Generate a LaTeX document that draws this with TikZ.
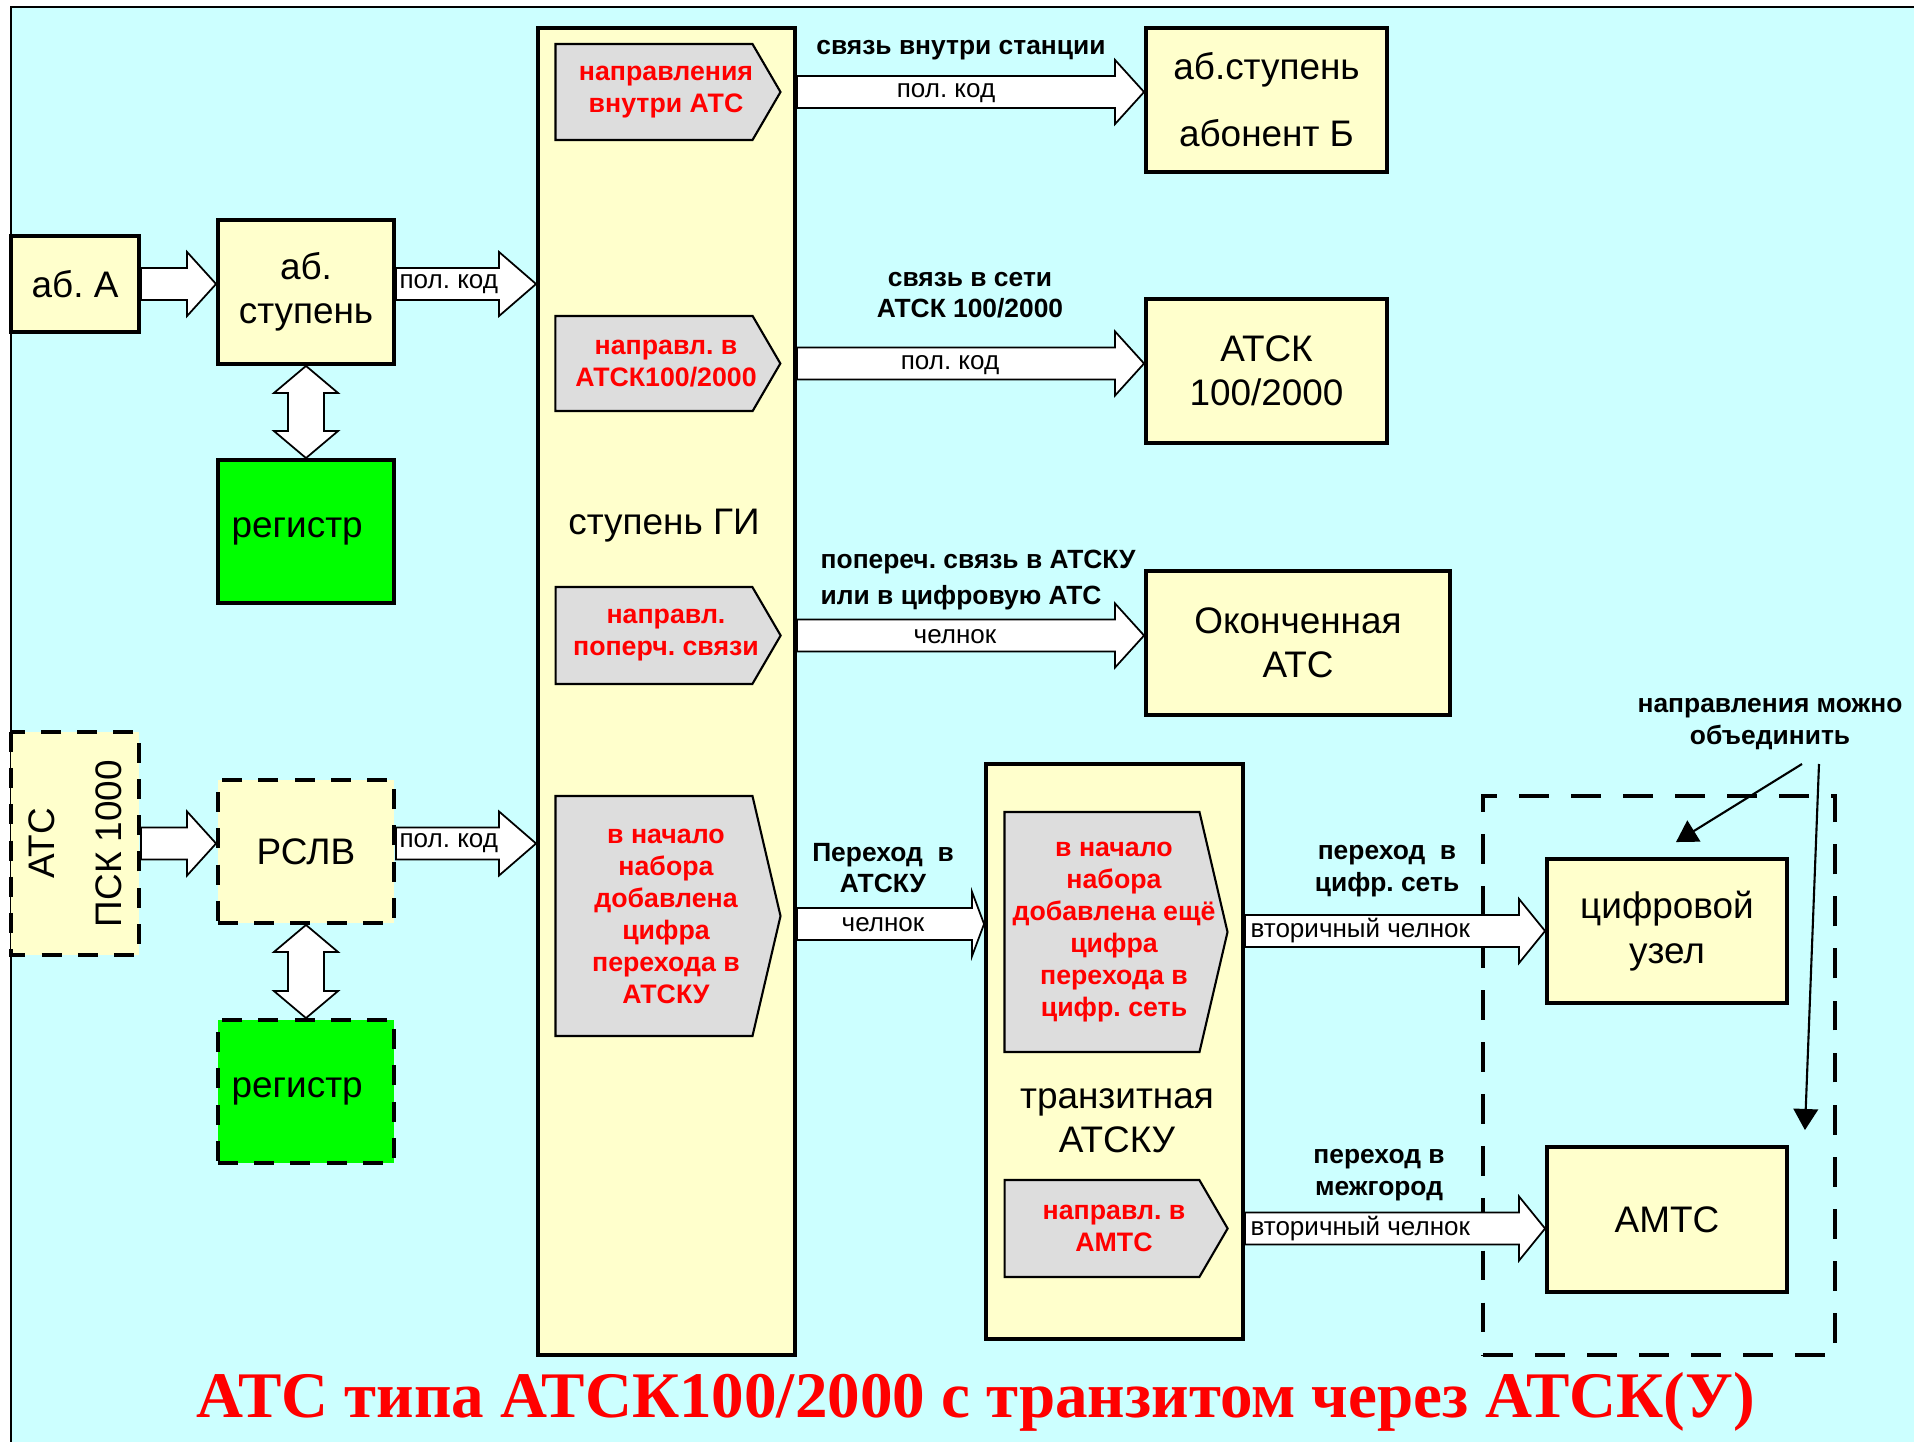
\documentclass[tikz,border=0pt]{standalone}
\usepackage{fontspec}
\setmainfont{Liberation Sans}
\newfontfamily\titlefont{Liberation Serif}
\usetikzlibrary{calc, shapes.symbols, arrows.meta}

\definecolor{bgcyan}{HTML}{CCFFFF}
\definecolor{boxyellow}{HTML}{FFFFCC}
\definecolor{dirgray}{HTML}{DDDDDD}
\definecolor{reggreen}{HTML}{00FF00}
\definecolor{txtred}{HTML}{FF0000}

\newcommand{\bigtxt}{\fontsize{10.5}{12.6}\selectfont}
\newcommand{\lbltxt}{\fontsize{7.5}{9}\selectfont\bfseries}
\newcommand{\intxt}{\fontsize{7.4}{9}\selectfont}
\newcommand{\redtxt}{\fontsize{7.6}{9.1}\selectfont\bfseries}

\newcommand{\blockarrow}[3][29]{%
  \draw[barrow] ($(#2)+(0,-16)$) -- ($(#3)+(-#1,-16)$) -- ($(#3)+(-#1,-32)$)
    -- (#3) -- ($(#3)+(-#1,32)$) -- ($(#3)+(-#1,16)$) -- ($(#2)+(0,16)$) -- cycle;}
\newcommand{\dblarrow}[2]{%
  \draw[barrow] (#1) -- ++(32,27) -- ++(-14,0) -- ($(#2)+(18,-27)$) -- ++(14,0)
    -- (#2) -- ++(-32,-27) -- ++(14,0) -- ($(#1)+(-18,27)$) -- ++(-14,0) -- cycle;}

\begin{document}
\frenchspacing
\begin{tikzpicture}[x=0.01cm, y=-0.01cm,
  wh/.style 2 args={minimum width=#1*0.01cm, minimum height=#2*0.01cm},
  box/.style={draw, line width=1.1pt, fill=boxyellow, align=center, font=\bigtxt, inner sep=2pt},
  dbox/.style={box, dash pattern=on 5.7pt off 4.6pt},
  regbox/.style={fill=reggreen},
  dir/.style={signal, signal to=east, signal pointer angle=#1, draw, line width=0.6pt,
    fill=dirgray, inner sep=1pt},
  dir/.default=119.5,
  dirtxt/.style={text=txtred, font=\redtxt, align=center, inner sep=0pt},
  barrow/.style={draw, line width=0.5pt, fill=white, line join=miter},
  lbl/.style={font=\lbltxt, align=center, inner sep=0pt},
  inlbl/.style={font=\intxt, inner sep=0pt},
  grp/.style={draw, line width=1.1pt, dash pattern=on 8.5pt off 6.3pt},
  ptr/.style={line width=0.6pt, -{Triangle[length=6pt, width=7pt]}}]

  \useasboundingbox (0,0) rectangle (1914,1442);
  \fill[bgcyan] (11,7) rectangle (1914,1442);
  \draw[line width=0.5pt] (11,1442) -- (11,7) -- (1914,7);

  \node[grp, wh={352}{559}] (grp) at (1659,1075.5) {};

  \node[box, wh={128}{96}] (abA) at (75,284) {аб. А};
  \node[box, wh={176}{144}] (abst) at (306,292) {аб.\\ступень};
  \node[box, regbox, wh={176}{143}] (reg1) at (306,531.5) {\hspace*{-5pt}регистр};
  \node[dbox, rotate=90, wh={223}{128}, font={\fontsize{10.5}{19}\selectfont}] (atcpsk) at (75,843.5) {АТС\\ПСК 1000};
  \node[dbox, wh={176}{143}] (rslv) at (306,851.5) {РСЛВ};
  \node[dbox, regbox, wh={176}{143}] (reg2) at (306,1091.5) {\hspace*{-5pt}регистр};

  \node[box, wh={257}{1327}] (gi) at (666.5,691.5) {};
  \node[font=\bigtxt] (gitext) at (664,526) {ступень ГИ};
  \node[dir, wh={225}{96}] (dirin) at (654,92) {};
  \node[dir, wh={225}{95}] (dirnet) at (654,363.5) {};
  \node[dir, wh={225}{97}] (dirpop) at (654,635.5) {};
  \node[dir=153.7, wh={225}{240}] (dirtr) at (654,916) {};
  \node[dirtxt] (dirintxt) at (666,92) {направления\\внутри АТС};
  \node[dirtxt] (dirnettxt) at (666,363.5) {направл. в\\АТСК100/2000};
  \node[dirtxt] (dirpoptxt) at (666,635.5) {направл.\\поперч. связи};
  \node[dirtxt] (dirtrtxt) at (666,916) {в начало\\набора\\добавлена\\цифра\\перехода в\\АТСКУ};

  \node[box, wh={241}{144}, font={\fontsize{10.5}{19}\selectfont}] (abB) at (1266.5,100) {аб.ступень\\абонент Б};
  \node[box, wh={241}{144}] (atsk) at (1266.5,371) {АТСК\\100/2000};
  \node[box, wh={304}{144}] (okatc) at (1298,643) {Оконченная\\АТС};

  \node[box, wh={257}{575}] (tranz) at (1114.5,1051.5) {};
  \node[font=\bigtxt, align=center] (tranztext) at (1117,1121) {транзитная\\АТСКУ};
  \node[dir=153.7, wh={223}{240}] (dircifr) at (1102,932) {};
  \node[dir, wh={223}{97}] (diramts) at (1102,1228.5) {};
  \node[dirtxt] (dircifrtxt) at (1114,932) {в начало\\набора\\добавлена ещё\\цифра\\перехода в\\цифр. сеть};
  \node[dirtxt] (diramtstxt) at (1114,1228.5) {направл. в\\АМТС};

  \node[box, wh={240}{144}] (cifr) at (1667,931) {цифровой\\узел};
  \node[box, wh={240}{145}] (amts) at (1667,1219.5) {АМТС};

  \blockarrow{abA.east}{abst.west |- abA.east}
  \blockarrow[37]{abst.east |- abA.east}{gi.west |- abA.east}
  \blockarrow{atcpsk.south}{rslv.west |- atcpsk.south}
  \blockarrow[37]{rslv.east |- atcpsk.south}{gi.west |- atcpsk.south}
  \dblarrow{abst.south}{reg1.north}
  \dblarrow{rslv.south}{reg2.north}

  \blockarrow{gi.east |- dirin.east}{abB.west |- dirin.east}
  \blockarrow{gi.east |- dirnet.east}{atsk.west |- dirnet.east}
  \blockarrow{gi.east |- dirpop.east}{okatc.west |- dirpop.east}
  \blockarrow[12]{gi.east |- 0,924}{tranz.west |- 0,924}
  \blockarrow[26]{tranz.east |- cifr.west}{cifr.west}
  \blockarrow[26]{tranz.east |- diramts.east}{amts.west |- diramts.east}

  \node[inlbl, anchor=west] (kod1) at ($(abst.east |- abA.east)+(3,0)$) {пол. код};
  \node[inlbl, anchor=west] (kod2) at ($(rslv.east |- atcpsk.south)+(3,0)$) {пол. код};
  \node[inlbl] (kod3) at (946,93) {пол. код};
  \node[inlbl] (kod4) at (950,365) {пол. код};
  \node[inlbl] (chel1) at (955,637) {челнок};
  \node[inlbl] (chel2) at (883,925) {челнок};
  \node[inlbl, anchor=west] (vchel1) at ($(tranz.east |- cifr.west)+(5,0)$) {вторичный челнок};
  \node[inlbl, anchor=west] (vchel2) at ($(tranz.east |- diramts.east)+(5,0)$) {вторичный челнок};

  \node[lbl] (l1) at (961,50) {связь внутри станции};
  \node[lbl] (l2) at (970,295) {связь в сети\\АТСК 100/2000};
  \node[lbl, align=left, font={\fontsize{7.5}{10}\selectfont\bfseries}, anchor=west] (l3) at (820,580) {попереч. связь в АТСКУ\\или в цифровую АТС};
  \node[lbl] (l4) at (883,868) {Переход\ \ в\\АТСКУ};
  \node[lbl] (l5) at (1387,871) {переход\ \ в\\цифр. сеть};
  \node[lbl] (l6) at (1379,1175) {переход в\\межгород};

  \node[lbl] (note) at (1770,724) {направления можно\\объединить};
  \coordinate (n1) at (1802,764);
  \coordinate (n2) at (1819,764);
  \draw[ptr] (n1) -- ($(cifr.north)+(9,-15)$);
  \draw[ptr] (n2) -- ($(amts.north east)+(16,-15)$);

  \node[font=\titlefont\bfseries\fontsize{18.5}{20}\selectfont, text=txtred, anchor=base, inner sep=0pt] (title) at (976,1417) {АТС типа АТСК100/2000 с транзитом через АТСК(У)};
\end{tikzpicture}
\end{document}
